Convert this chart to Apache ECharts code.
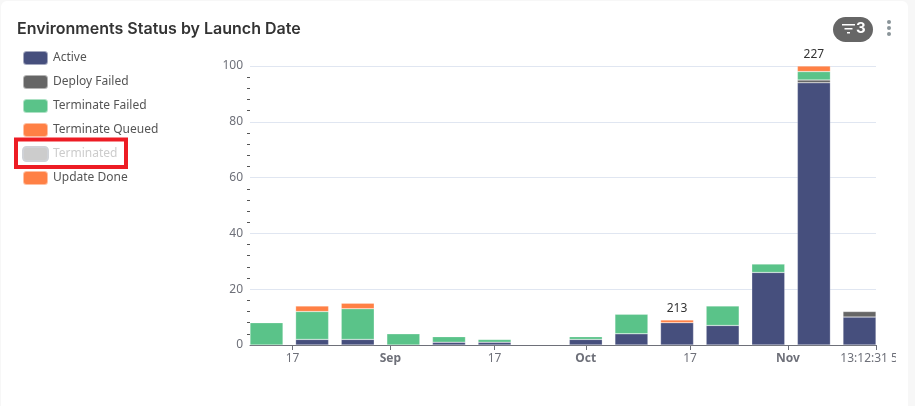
<!DOCTYPE html>
<html>
<head>
<meta charset="utf-8">
<title>Environments Status by Launch Date</title>
<script src="https://cdn.jsdelivr.net/npm/echarts@6/dist/echarts.min.js"></script>
<style>
  html, body { margin: 0; padding: 0; background: #f7f7f7; overflow: hidden; }
  #card { position: absolute; left: 1px; top: 1px; width: 907px; height: 405px; background: #fff; border-radius: 6px 6px 0 0; }
  #chart { position: absolute; left: 0; top: 0; width: 896px; height: 406px; }
</style>
</head>
<body>
<div id="card"></div>
<div id="chart"></div>
<script>
// 每周一根柱子，null 表示这一周没有该状态
const weeks = ['2023-08-13', '2023-08-20', '2023-08-27', '2023-09-03', '2023-09-10', '2023-09-17', '2023-09-24',
  '2023-10-01', '2023-10-08', '2023-10-15', '2023-10-22', '2023-10-29', '2023-11-05', '2023-11-12']
const active = [null, 2, 2, null, 1, 1, null, 2, 4, 8, 7, 26, 94, 10]
const deployFailed = [null, null, null, null, null, null, null, null, null, null, null, null, 1, 2]
const terminateFailed = [8, 10, 11, 4, 2, 1, null, 1, 7, null, 7, 3, 3, null]
const terminateQueued = [null, 2, 2, null, null, null, null, null, null, null, null, null, null, null]
const terminated = [null, null, null, null, null, null, null, null, null, 204, null, null, 127, null]
const updateDone = [null, null, null, null, null, null, null, null, null, 1, null, null, 2, null]
const totals = [null, null, null, null, null, null, null, null, null, 213, null, null, 227, null]
const yTicks = { min: 0, max: 100, interval: 20 }
const maxLabel = '13:12:31 500'
const monthNames = ['Jan', 'Feb', 'Mar', 'Apr', 'May', 'Jun', 'Jul', 'Aug', 'Sep', 'Oct', 'Nov', 'Dec']

const colors = { active: '#464f7d', deploy: '#666666', failed: '#5ac389', orange: '#ff8045', off: '#cccccc' }
const bodyFont = '"Noto Sans", sans-serif'

const pairs = (values) => weeks.map((w, i) => [w, values[i]])

const barSeries = (name, values, color, extra) => Object.assign({
  name,
  type: 'bar',
  stack: 'status',
  barWidth: 33,
  data: pairs(values),
  itemStyle: { color, borderColor: 'rgba(255,255,255,0.5)', borderWidth: 0.5 }
}, extra)

const chart = echarts.init(document.getElementById('chart'))

chart.setOption({
  animation: false,
  title: {
    text: 'Environments Status by Launch Date',
    left: 17,
    top: 21,
    padding: 0,
    textStyle: { fontFamily: 'Inter, sans-serif', fontSize: 16, fontWeight: 600, color: '#333333' }
  },
  legend: {
    orient: 'vertical',
    left: 22,
    top: 50,
    padding: 0,
    itemWidth: 25,
    itemHeight: 14,
    itemGap: 8,
    icon: 'roundRect',
    inactiveColor: colors.off,
    textStyle: { fontFamily: bodyFont, fontSize: 12, color: '#555555', padding: [-2, 0, 0, 0] },
    selected: { Terminated: false },
    data: ['Active', 'Deploy Failed', 'Terminate Failed', 'Terminate Queued', 'Terminated', 'Update Done']
  },
  grid: { left: 250, right: 20, top: 66, bottom: 61, outerBoundsMode: 'none' },
  xAxis: {
    type: 'time',
    axisLine: { lineStyle: { color: '#6e7079' } },
    axisTick: { show: true, length: 5, lineStyle: { color: '#6e7079' } },
    splitLine: { show: false },
    axisLabel: {
      fontFamily: bodyFont,
      fontSize: 12,
      color: '#6e7079',
      margin: 8,
      hideOverlap: false,
      showMinLabel: false,
      showMaxLabel: true,
      formatter: (value) => {
        const d = new Date(value)
        // 轴的最后一个刻度不在整天上，显示时分秒
        if (d.getMonth() === 10 && d.getDate() > 1) return maxLabel
        if (d.getDate() === 1) return `{month|${monthNames[d.getMonth()]}}`
        return String(d.getDate())
      },
      rich: { month: { fontFamily: bodyFont, fontSize: 12, fontWeight: 'bold', color: '#6e7079' } }
    }
  },
  yAxis: {
    type: 'value',
    min: yTicks.min,
    max: yTicks.max,
    interval: yTicks.interval,
    axisLine: { show: false },
    axisTick: { show: false },
    minorTick: { show: true, splitNumber: 5, length: 3, lineStyle: { color: '#555555' } },
    splitLine: { lineStyle: { color: '#e0e6f1' } },
    axisLabel: { fontFamily: bodyFont, fontSize: 12, color: '#6e7079', margin: 7 }
  },
  series: [
    barSeries('Active', active, colors.active),
    barSeries('Deploy Failed', deployFailed, colors.deploy),
    barSeries('Terminate Failed', terminateFailed, colors.failed),
    barSeries('Terminate Queued', terminateQueued, colors.orange),
    barSeries('Terminated', terminated, colors.off),
    barSeries('Update Done', updateDone, colors.orange, {
      label: {
        show: true,
        position: 'top',
        distance: 5,
        fontFamily: bodyFont,
        fontSize: 12,
        color: '#333333',
        formatter: (p) => (totals[p.dataIndex] === null ? '' : String(totals[p.dataIndex]))
      }
    })
  ],
  graphic: [
    // 图例上的红色标注框
    { type: 'rect', shape: { x: 16, y: 139.5, width: 110, height: 27.5 }, style: { fill: 'none', stroke: '#ed1c24', lineWidth: 4 }, z: 100 },
    // 右上角筛选按钮
    { type: 'rect', shape: { x: 833, y: 17, width: 40, height: 25, r: 12.5 }, style: { fill: '#666666' }, z: 100 },
    { type: 'rect', shape: { x: 842, y: 24, width: 13, height: 1.5 }, style: { fill: '#ffffff' }, z: 101 },
    { type: 'rect', shape: { x: 844.5, y: 28, width: 8, height: 1.5 }, style: { fill: '#ffffff' }, z: 101 },
    { type: 'rect', shape: { x: 847, y: 32, width: 3, height: 1.5 }, style: { fill: '#ffffff' }, z: 101 },
    { type: 'text', style: { x: 856, y: 21, text: '3', fill: '#ffffff', font: 'bold 15px Inter, sans-serif' }, z: 101 },
    // 更多菜单的三个点
    { type: 'circle', shape: { cx: 889, cy: 22, r: 2 }, style: { fill: '#8a9499' }, z: 100 },
    { type: 'circle', shape: { cx: 889, cy: 28, r: 2 }, style: { fill: '#8a9499' }, z: 100 },
    { type: 'circle', shape: { cx: 889, cy: 34, r: 2 }, style: { fill: '#8a9499' }, z: 100 }
  ]
})
</script>
</body>
</html>
